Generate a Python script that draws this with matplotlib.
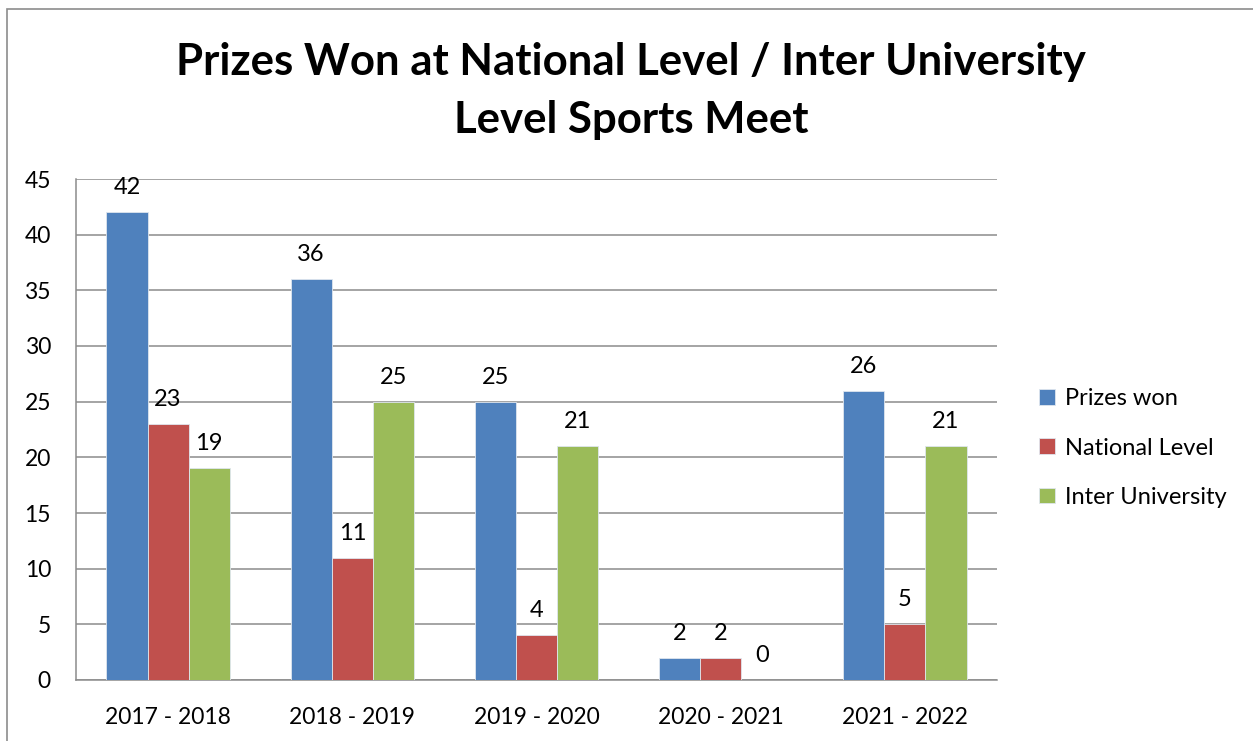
import matplotlib
matplotlib.use("Agg")
import matplotlib.pyplot as plt
from matplotlib.patches import Rectangle
import numpy as np

categories = ["2017 - 2018", "2018 - 2019", "2019 - 2020", "2020 - 2021", "2021 - 2022"]
prizes_won = [42, 36, 25, 2, 26]
national_level = [23, 11, 4, 2, 5]
inter_university = [19, 25, 21, 0, 21]
series_names = ["Prizes won", "National Level", "Inter University"]
colors = ["#4F81BD", "#C0504D", "#9BBB59"]
yticks = [0, 5, 10, 15, 20, 25, 30, 35, 40, 45]

plt.rcParams['font.family'] = ['Lato', 'DejaVu Sans']

W, H = 1253, 741
fig = plt.figure(figsize=(W / 100, H / 100), dpi=100)

# outer chart border
fig.patches.append(Rectangle((7 / W, -0.05), 1.1, 1.05 - 9 / H, transform=fig.transFigure,
                             fill=False, edgecolor="#8c8c8c", linewidth=1.2))

ax = fig.add_axes([76 / W, 1 - 680 / H, (997 - 76) / W, (680 - 179) / H])

x = np.arange(len(categories))
bw = 0.223
data = [prizes_won, national_level, inter_university]
for i, (vals, name, c) in enumerate(zip(data, series_names, colors)):
    pos = x + (i - 1) * bw
    ax.bar(pos, vals, width=bw, color=c, edgecolor="#dfe6ee", linewidth=0.6, label=name, zorder=3)
    for xp, v in zip(pos, vals):
        ax.annotate(str(v), (xp, v), xytext=(0, 14), textcoords="offset pixels",
                    ha="center", va="bottom", fontsize=17, color="black")

ax.set_xlim(-0.5, len(categories) - 0.5)
ax.set_ylim(0, 45)
ax.set_yticks(yticks)
ax.set_yticklabels([str(t) for t in yticks], fontsize=16.5)
ax.set_xticks(x)
ax.set_xticklabels(categories, fontsize=16.5)
ax.tick_params(axis="both", length=0)
ax.tick_params(axis="y", pad=18)
ax.tick_params(axis="x", pad=19.5)
ax.grid(axis="y", color="#8c8c8c", linewidth=1.1, zorder=0)
for s in ["top", "right"]:
    ax.spines[s].set_visible(False)
for s in ["left", "bottom"]:
    ax.spines[s].set_color("#8c8c8c")
    ax.spines[s].set_linewidth(1.1)

fig.text(631 / W, 1 - 91 / H, "Prizes Won at National Level / Inter University\nLevel Sports Meet",
         ha="center", va="center", fontsize=31.5, fontweight="bold", linespacing=1.57)

ax.legend(loc="center left", bbox_to_anchor=(1030 / W, 1 - 448 / H), bbox_transform=fig.transFigure,
          frameon=False, fontsize=17, handlelength=0.65, handleheight=0.65, handletextpad=0.45,
          labelspacing=1.2, borderaxespad=0)

fig.savefig("out.png", dpi=100)
